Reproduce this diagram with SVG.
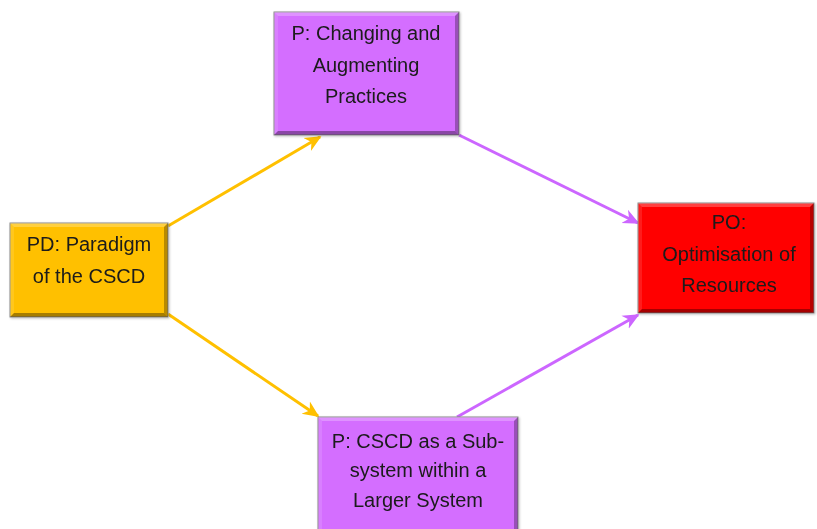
<svg xmlns="http://www.w3.org/2000/svg" width="817" height="529" viewBox="0 0 817 529">
  <defs>
    <marker id="headY" viewBox="0 0 10 10" refX="9" refY="5" markerWidth="5.5" markerHeight="5.5" markerUnits="strokeWidth" orient="auto">
      <path d="M0,0.5 L10,5 L0,9.5 L3,5 Z" fill="#FFC000"/>
    </marker>
    <marker id="headP" viewBox="0 0 10 10" refX="9" refY="5" markerWidth="5.5" markerHeight="5.5" markerUnits="strokeWidth" orient="auto">
      <path d="M0,0.5 L10,5 L0,9.5 L3,5 Z" fill="#CC66FF"/>
    </marker>
    <filter id="soft" x="-5%" y="-5%" width="115%" height="115%">
      <feDropShadow dx="1" dy="1" stdDeviation="1" flood-color="#000" flood-opacity="0.25"/>
    </filter>
  </defs>
  <style>
    .box { stroke: #8a8a8a; stroke-width: 1; }
    .hi { fill: #ffffff; fill-opacity: 0.25; }
    .hiL { fill: #ffffff; fill-opacity: 0.12; }
    .sh { fill: #000000; fill-opacity: 0.28; }
    .shB { fill: #000000; fill-opacity: 0.35; }
    .lbl { font-family: "Liberation Sans", Arial, sans-serif; font-size: 20px; fill: #1a1a1a; text-anchor: middle; }
    .yel { stroke: #FFC000; stroke-width: 3; fill: none; marker-end: url(#headY); }
    .pur { stroke: #CC66FF; stroke-width: 3; fill: none; marker-end: url(#headP); }
  </style>

  <rect width="817" height="529" fill="#ffffff"/>

  <!-- connectors -->
  <g id="connectors">
    <line class="yel" x1="168" y1="226" x2="320" y2="137"/>
    <line class="yel" x1="168" y1="314" x2="318" y2="416"/>
    <line class="pur" x1="459" y1="135" x2="638" y2="223"/>
    <line class="pur" x1="457" y1="417" x2="638" y2="315"/>
  </g>

  <!-- paradigm node -->
  <g id="node-pd" filter="url(#soft)">
    <rect class="box" x="10" y="223" width="158" height="94" fill="#FFC000"/>
    <polygon class="hi" points="10,223 168,223 164,227 14,227"/>
    <polygon class="hiL" points="10,223 14,227 14,313 10,317"/>
    <polygon class="sh" points="168,223 168,317 164,313 164,227"/>
    <polygon class="shB" points="10,317 168,317 164,313 14,313"/>
    <text class="lbl" x="89" y="251">PD: Paradigm</text>
    <text class="lbl" x="89" y="283">of the CSCD</text>
  </g>

  <!-- practice node, top -->
  <g id="node-practices" filter="url(#soft)">
    <rect class="box" x="274" y="12" width="185" height="123" fill="#D46EFF"/>
    <polygon class="hi" points="274,12 459,12 455,16 278,16"/>
    <polygon class="hiL" points="274,12 278,16 278,131 274,135"/>
    <polygon class="sh" points="459,12 459,135 455,131 455,16"/>
    <polygon class="shB" points="274,135 459,135 455,131 278,131"/>
    <text class="lbl" x="366" y="40">P: Changing and</text>
    <text class="lbl" x="366" y="72">Augmenting</text>
    <text class="lbl" x="366" y="103">Practices</text>
  </g>

  <!-- outcome node -->
  <g id="node-po" filter="url(#soft)">
    <rect class="box" x="638" y="203" width="176" height="110" fill="#FF0000"/>
    <polygon class="hi" points="638,203 814,203 810,207 642,207"/>
    <polygon class="hiL" points="638,203 642,207 642,309 638,313"/>
    <polygon class="sh" points="814,203 814,313 810,309 810,207"/>
    <polygon class="shB" points="638,313 814,313 810,309 642,309"/>
    <text class="lbl" x="729" y="229">PO:</text>
    <text class="lbl" x="729" y="261">Optimisation of</text>
    <text class="lbl" x="729" y="292">Resources</text>
  </g>

  <!-- practice node, bottom -->
  <g id="node-subsystem" filter="url(#soft)">
    <rect class="box" x="318" y="417" width="200" height="125" fill="#D46EFF"/>
    <polygon class="hi" points="318,417 518,417 514,421 322,421"/>
    <polygon class="hiL" points="318,417 322,421 322,540 318,545"/>
    <polygon class="sh" points="518,417 518,545 514,540 514,421"/>
    <text class="lbl" x="418" y="448">P: CSCD as a Sub-</text>
    <text class="lbl" x="418" y="477">system within a</text>
    <text class="lbl" x="418" y="507">Larger System</text>
  </g>
</svg>
